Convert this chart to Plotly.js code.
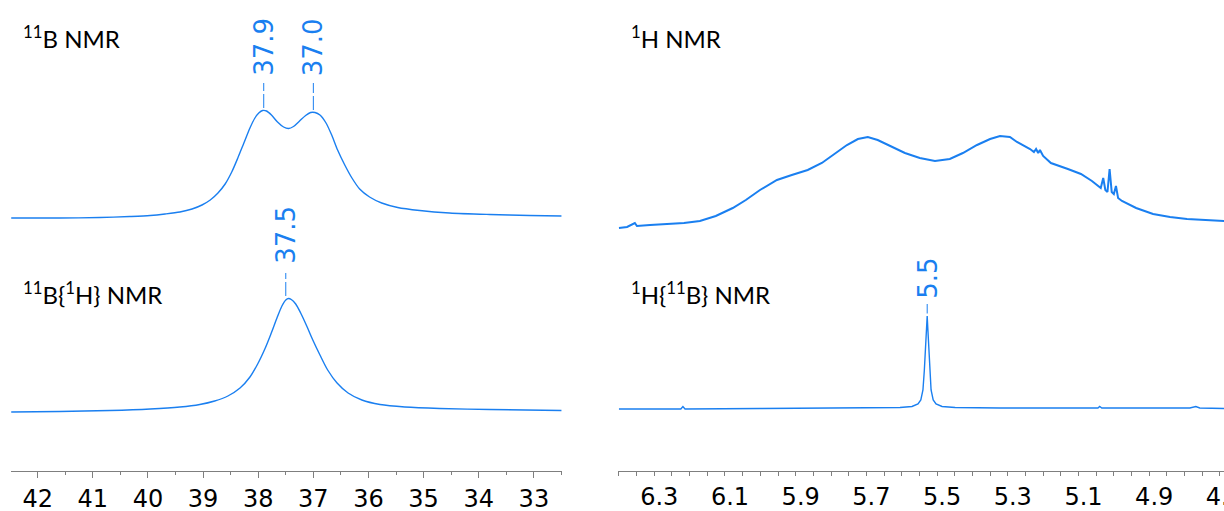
<!DOCTYPE html>
<html>
<head>
<meta charset="utf-8">
<script src="https://cdn.plot.ly/plotly-3.0.1.min.js"></script>
<style>
  html, body { margin: 0; padding: 0; background: #fff; overflow: hidden; }
  #chart { width: 1240px; height: 511px; }
</style>
</head>
<body>
<div id="chart"></div>
<script>
// ---------- DATA ----------
// 11B NMR (top left)
const b11_ppm = [42.48, 41.60, 40.87, 40.33, 39.96, 39.69, 39.42, 39.20, 39.02, 38.87, 38.73, 38.60, 38.48, 38.37, 38.26, 38.15, 38.06, 37.99, 37.92, 37.85, 37.76, 37.65, 37.54, 37.45, 37.36, 37.25, 37.14, 37.05, 36.97, 36.88, 36.77, 36.66, 36.56, 36.43, 36.30, 36.16, 35.98, 35.76, 35.47, 35.07, 34.53, 33.80, 33.08, 32.50];
const b11_int = [0, 0, 0.5, 1.5, 2.5, 4, 6, 9, 13, 18, 25, 34, 46, 60, 75, 90, 100, 105, 107.5, 107, 103, 96, 91, 89.5, 91.5, 97, 102.5, 105.5, 105.5, 103, 95, 82, 68, 53, 40, 29, 21, 15, 10.5, 7.5, 5, 3.5, 2.5, 2];

// 11B{1H} NMR (bottom left)
const b11h_ppm = [42.48, 41.60, 40.69, 39.96, 39.42, 39.06, 38.79, 38.55, 38.33, 38.15, 38.01, 37.88, 37.77, 37.66, 37.57, 37.50, 37.45, 37.40, 37.32, 37.23, 37.12, 37.01, 36.88, 36.74, 36.57, 36.37, 36.12, 35.79, 35.34, 34.71, 33.80, 32.50];
const b11h_int = [0, 0.5, 1.5, 3, 5, 7.5, 11, 16, 24, 35, 48, 63, 78, 94, 106, 112, 113.5, 112.5, 108, 99, 86, 72, 57, 42, 29, 19, 12, 7.5, 5, 3.5, 2.5, 1.5];

// 1H NMR (top right)
const h1_ppm = [6.400, 6.377, 6.355, 6.349, 6.312, 6.264, 6.216, 6.171, 6.126, 6.078, 6.041, 6.001, 5.953, 5.911, 5.866, 5.826, 5.789, 5.755, 5.724, 5.696, 5.668, 5.634, 5.591, 5.549, 5.506, 5.464, 5.427, 5.387, 5.350, 5.322, 5.294, 5.274, 5.237, 5.226, 5.220, 5.214, 5.209, 5.200, 5.178, 5.130, 5.093, 5.062, 5.045, 5.037, 5.030, 5.024, 5.018, 5.012, 5.006, 5.000, 4.994, 4.988, 4.977, 4.937, 4.889, 4.841, 4.793, 4.745, 4.688];
const h1_int = [0, 1, 5, 2, 3, 4, 5, 7, 12, 20, 28, 38, 48, 53, 58, 65, 74, 83, 89, 91, 88, 82, 75, 70, 67, 69, 75, 83, 89, 92, 91, 86, 79, 76, 79, 75, 78, 72, 65, 59, 54, 47, 42, 40, 50, 38, 36, 59, 36, 34, 42, 30, 27, 20, 14, 11, 9, 8, 7];

// 1H{11B} NMR (bottom right)
const h1b_ppm = [6.400, 6.285, 6.225, 6.219, 6.213, 6.001, 5.718, 5.605, 5.571, 5.554, 5.546, 5.540, 5.536, 5.531, 5.528, 5.526, 5.521, 5.517, 5.511, 5.503, 5.486, 5.449, 5.322, 5.152, 5.045, 5.040, 5.034, 4.785, 4.768, 4.757, 4.688];
const h1b_int = [0, 0, 0, 2.5, 0, 0.5, 1, 1.5, 2.5, 5, 9, 19, 39, 79, 93, 79, 39, 19, 9, 5, 2.5, 1.5, 1, 1, 1, 2.5, 1, 1, 2.5, 1, 0.5];

// Peak annotations
const b11_peaks = [37.9, 37.0];
const b11_peak_int = [107.5, 105.5];
const b11h_peaks = [37.5];
const b11h_peak_int = [113.5];
const h1b_peaks = [5.5];
const h1b_peak_pos = [5.528];
const h1b_peak_int = [93];

// Panel titles
const titles = ['<sup>11</sup>B NMR', '<sup>11</sup>B{<sup>1</sup>H} NMR', '<sup>1</sup>H NMR', '<sup>1</sup>H{<sup>11</sup>B} NMR'];

// ---------- STYLE ----------
const BLUE = '#1a7ff0';
const AXIS_GRAY = '#7f7f7f';
const TICK_FONT = {family: 'DejaVu Sans, Verdana, sans-serif', size: 24, color: '#000'};
const PEAK_FONT = {family: 'DejaVu Sans, Verdana, sans-serif', size: 26, color: BLUE};
const TITLE_FONT = {family: 'Lato, Open Sans, sans-serif', size: 24, color: '#000'};

const traces = [
  {x: b11_ppm, y: b11_int, xaxis: 'x', yaxis: 'y', type: 'scatter', mode: 'lines',
   line: {color: BLUE, width: 1.4, shape: 'spline', smoothing: 0.8}, hoverinfo: 'skip'},
  {x: b11h_ppm, y: b11h_int, xaxis: 'x', yaxis: 'y2', type: 'scatter', mode: 'lines',
   line: {color: BLUE, width: 1.4, shape: 'spline', smoothing: 0.8}, hoverinfo: 'skip'},
  {x: h1_ppm, y: h1_int, xaxis: 'x2', yaxis: 'y3', type: 'scatter', mode: 'lines',
   line: {color: BLUE, width: 2}, hoverinfo: 'skip'},
  {x: h1b_ppm, y: h1b_int, xaxis: 'x2', yaxis: 'y4', type: 'scatter', mode: 'lines',
   line: {color: BLUE, width: 1.4}, hoverinfo: 'skip'}
];

const annotations = [];
const shapes = [];
function addPeak(xref, yref, xpos, label, pint, leaderTop, labelBottom) {
  annotations.push({xref: xref, yref: yref, x: xpos, y: labelBottom, text: label,
    textangle: -90, showarrow: false, xanchor: 'center', yanchor: 'bottom',
    font: PEAK_FONT, borderpad: 0});
  shapes.push({type: 'line', xref: xref, yref: yref, x0: xpos, x1: xpos,
    y0: pint + 2.5, y1: leaderTop, line: {color: BLUE, width: 1, dash: '14px,3px'}});
}
b11_peaks.forEach((p, i) => addPeak('x', 'y', p, p.toFixed(1), b11_peak_int[i], 135, 141));
b11h_peaks.forEach((p, i) => addPeak('x', 'y2', p, p.toFixed(1), b11h_peak_int[i], 139, 147));
h1b_peaks.forEach((p, i) => addPeak('x2', 'y4', h1b_peak_pos[i], p.toFixed(1), h1b_peak_int[i], 105, 109));

const titlePos = [[0.00895, 0.9214], [0.00895, 0.3779], [0.50366, 0.9214], [0.50366, 0.3779]];
titles.forEach((t, i) => annotations.push({xref: 'paper', yref: 'paper', x: titlePos[i][0], y: titlePos[i][1],
  text: t, showarrow: false, xanchor: 'left', yanchor: 'middle', font: TITLE_FONT, borderpad: 0}));

const xBase = {
  showline: true, linecolor: AXIS_GRAY, linewidth: 1, showgrid: false, zeroline: false,
  ticks: 'outside', tickcolor: AXIS_GRAY, tickwidth: 1, tickfont: TICK_FONT,
  anchor: 'free', position: 0, autorange: false, fixedrange: true, ticklabeloverflow: 'allow'
};

const layout = {
  width: 1240, height: 511,
  margin: {l: 11, r: 0, t: 0, b: 40},
  paper_bgcolor: '#fff', plot_bgcolor: '#fff',
  showlegend: false,
  xaxis: Object.assign({}, xBase, {
    domain: [0, 0.44833], range: [42.484, 32.49],
    tickmode: 'linear', tick0: 42, dtick: 1, ticklen: 6, ticklabelshift: -4.5,
    minor: {dtick: 0.5, ticklen: 3, ticks: 'outside', tickcolor: AXIS_GRAY, tickwidth: 1}
  }),
  xaxis2: Object.assign({}, xBase, {
    domain: [0.49414, 1], range: [6.4018, 4.6431],
    tickmode: 'linear', tick0: 6.3, dtick: 0.2, ticklen: 4, tickformat: '.1f', ticklabelshift: -5,
    minor: {dtick: 0.05, ticklen: 4, ticks: 'outside', tickcolor: AXIS_GRAY, tickwidth: 1}
  }),
  yaxis: {domain: [0.51592, 0.84501], range: [-10, 145], visible: false, anchor: 'x', fixedrange: true},
  yaxis2: {domain: [0.10403, 0.44374], range: [-10, 150], visible: false, anchor: 'x', fixedrange: true},
  yaxis3: {domain: [0.49469, 0.72824], range: [-10, 100], visible: false, anchor: 'x2', fixedrange: true},
  yaxis4: {domain: [0.11040, 0.36518], range: [-10, 110], visible: false, anchor: 'x2', fixedrange: true},
  annotations: annotations,
  shapes: shapes
};

Plotly.newPlot('chart', traces, layout, {displayModeBar: false, staticPlot: true});
</script>
</body>
</html>
